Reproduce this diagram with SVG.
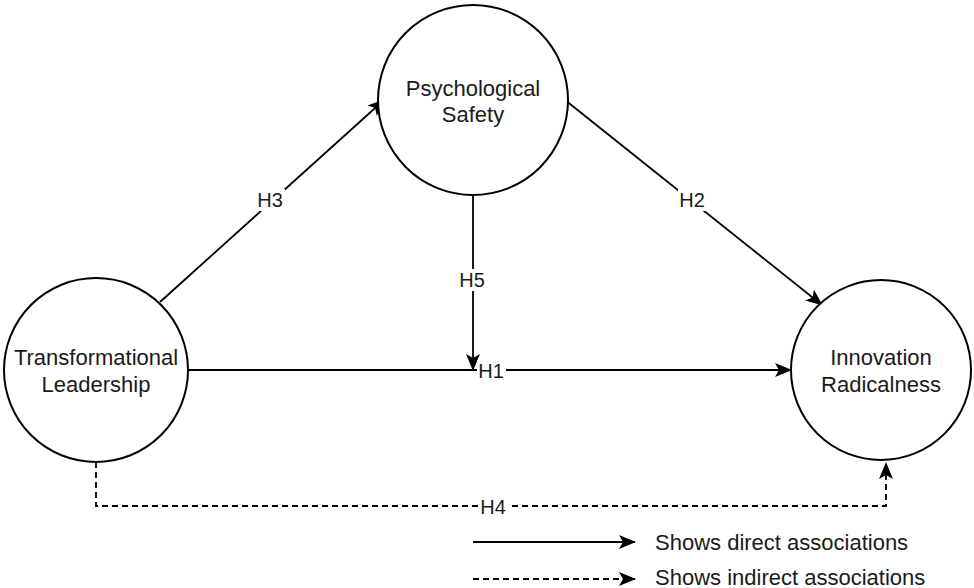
<svg xmlns="http://www.w3.org/2000/svg" width="974" height="588" viewBox="0 0 974 588">
<defs>
<marker id="ah" markerWidth="17" markerHeight="14" refX="16" refY="7" orient="auto" markerUnits="userSpaceOnUse">
<path d="M0,0 L17,7 L0,14 L4,7 Z" fill="#000"/>
</marker>
<style>
.node{fill:#fff;stroke:#000;stroke-width:2}
.t{font-family:"Liberation Sans",Arial,sans-serif;font-size:22px;fill:#1a1a1a;text-anchor:middle;dominant-baseline:central}
.h{font-family:"Liberation Sans",Arial,sans-serif;font-size:20px;fill:#1a1a1a;text-anchor:middle;dominant-baseline:central}
.lt{font-family:"Liberation Sans",Arial,sans-serif;font-size:22px;fill:#1a1a1a;dominant-baseline:central}
.c{fill:none;stroke:#000;stroke-width:1.8}
.d{stroke-dasharray:6,4}
.lb{fill:#fff}
</style>
</defs>
<rect width="974" height="588" fill="#fff"/>
<g id="connectors">
<line class="c" x1="160" y1="302" x2="384" y2="100" marker-end="url(#ah)"/>
<line class="c" x1="565" y1="100" x2="822" y2="305" marker-end="url(#ah)"/>
<line class="c" x1="473" y1="195" x2="473" y2="370" marker-end="url(#ah)"/>
<line class="c" x1="188" y1="370" x2="791" y2="370" marker-end="url(#ah)"/>
<polyline class="c d" points="96,462 96,506 886,506 886,463" marker-end="url(#ah)"/>
<rect class="lb" x="256" y="189" width="29" height="22"/>
<text class="h" x="270" y="200">H3</text>
<rect class="lb" x="678" y="189" width="29" height="22"/>
<text class="h" x="692" y="200">H2</text>
<rect class="lb" x="458" y="269" width="29" height="22"/>
<text class="h" x="472" y="280">H5</text>
<rect class="lb" x="477" y="360" width="29" height="22"/>
<text class="h" x="491" y="371">H1</text>
<rect class="lb" x="479" y="496" width="29" height="22"/>
<text class="h" x="493" y="507">H4</text>
</g>
<g id="psych">
<circle class="node" cx="473" cy="100" r="95"/>
<text class="t" x="473" y="88">Psychological</text>
<text class="t" x="473" y="114">Safety</text>
</g>
<g id="tl">
<circle class="node" cx="96" cy="370" r="92"/>
<text class="t" x="96" y="357">Transformational</text>
<text class="t" x="96" y="384">Leadership</text>
</g>
<g id="ir">
<circle class="node" cx="881" cy="370" r="90"/>
<text class="t" x="881" y="357">Innovation</text>
<text class="t" x="881" y="384">Radicalness</text>
</g>
<g id="legend">
<line class="c" x1="473" y1="542" x2="635" y2="542" marker-end="url(#ah)"/>
<text class="lt" x="655" y="542">Shows direct associations</text>
<line class="c d" x1="473" y1="579" x2="635" y2="579" marker-end="url(#ah)"/>
<text class="lt" x="655" y="577">Shows indirect associations</text>
</g>
</svg>
